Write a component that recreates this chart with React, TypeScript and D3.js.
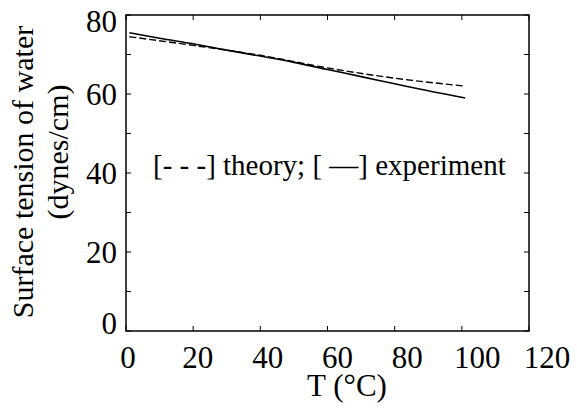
import React from "react";
import * as d3 from "d3";

const W = 577;
const H = 411;

const xTicksMajor = [0, 20, 40, 60, 80, 100, 120];
const yTicksMajor = [0, 20, 40, 60, 80];
const yTicksMinor = [0, 10, 20, 30, 40, 50, 60, 70, 80];

const expT = [1, 10, 20, 30, 40, 50, 60, 70, 80, 90, 101];
const expS = [75.5, 74.1, 72.7, 71.1, 69.6, 68.0, 66.2, 64.4, 62.6, 60.8, 59.0];

const theoryT = [1, 20, 40, 60, 80, 101];
const theoryS = [74.5, 72.3, 69.8, 66.6, 64.0, 62.0];

const yLabel1 = "Surface tension of water";
const yLabel2 = "(dynes/cm)";
const xLabel = "T (°C)";
const legendText = "[- - -] theory; [ —] experiment";

const FONT = "Liberation Serif";

export default function App() {
  const left = 126, right = 529, top = 15, bottom = 331;
  const x = d3.scaleLinear().domain([0, 120]).range([left, right]);
  const y = d3.scaleLinear().domain([0, 80]).range([bottom, top]);
  // tick labels in the scan drift slightly relative to tick marks
  const xLab = d3.scaleLinear().domain([0, 120]).range([128, 547]);

  const line = d3
    .line<[number, number]>()
    .x((d) => x(d[0]))
    .y((d) => y(d[1]))
    .curve(d3.curveMonotoneX);

  const expPath = line(expT.map((t, i) => [t, expS[i]] as [number, number])) || "";
  const thPath = line(theoryT.map((t, i) => [t, theoryS[i]] as [number, number])) || "";

  const tick = 5;
  const yLabOffset = (v: number) => (v === 80 ? 6 : v === 0 ? -8 : 0);

  return (
    <svg
      width={W}
      height={H}
      style={{ position: "absolute", left: 0, top: 0 }}
    >
      <rect x={0} y={0} width={W} height={H} fill="#fff" />
      <rect
        x={left}
        y={top}
        width={right - left}
        height={bottom - top}
        fill="none"
        stroke="#000"
        strokeWidth={1.5}
      />
      {yTicksMinor.map((v) => (
        <g key={"yt" + v}>
          <line x1={left} x2={left + tick} y1={y(v)} y2={y(v)} stroke="#000" strokeWidth={1} />
          <line x1={right} x2={right - tick} y1={y(v)} y2={y(v)} stroke="#000" strokeWidth={1} />
        </g>
      ))}
      {xTicksMajor.map((v) => (
        <g key={"xt" + v}>
          <line x1={x(v)} x2={x(v)} y1={bottom} y2={bottom - tick} stroke="#000" strokeWidth={1} />
          <line x1={x(v)} x2={x(v)} y1={top} y2={top + tick} stroke="#000" strokeWidth={1} />
        </g>
      ))}
      {yTicksMajor.map((v) => (
        <text
          key={"yl" + v}
          x={117}
          y={y(v) + yLabOffset(v) + 11}
          textAnchor="end"
          fontSize={31}
          fontFamily={FONT}
        >
          {v}
        </text>
      ))}
      {xTicksMajor.map((v) => (
        <text key={"xl" + v} x={xLab(v)} y={368} textAnchor="middle" fontSize={31} fontFamily={FONT}>
          {v}
        </text>
      ))}
      <text x={347} y={396} textAnchor="middle" fontSize={31} fontFamily={FONT}>
        {xLabel}
      </text>
      <text
        transform={`translate(33,172) rotate(-90)`}
        textAnchor="middle"
        fontSize={30}
        fontFamily={FONT}
      >
        {yLabel1}
      </text>
      <text
        transform={`translate(68,152) rotate(-90)`}
        textAnchor="middle"
        fontSize={30}
        fontFamily={FONT}
      >
        {yLabel2}
      </text>
      <path d={thPath} fill="none" stroke="#000" strokeWidth={1.4} strokeDasharray="7,3" />
      <path d={expPath} fill="none" stroke="#000" strokeWidth={1.6} />
      <text x={153} y={175} fontSize={29} fontFamily={FONT}>
        {legendText}
      </text>
    </svg>
  );
}
